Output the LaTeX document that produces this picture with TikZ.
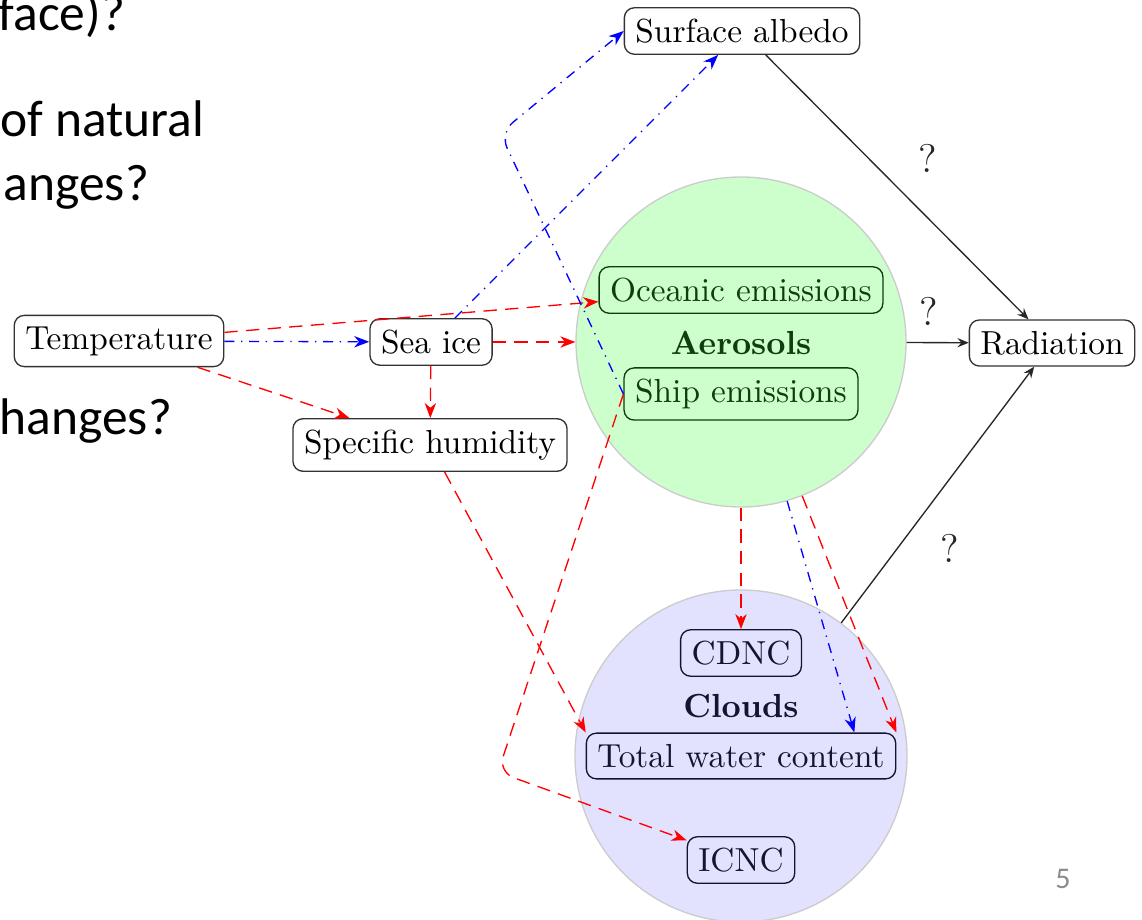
\documentclass[tikz,border=0pt]{standalone}
\usepackage{fontspec}
\newfontfamily\slidefont{Carlito}
\usetikzlibrary{arrows.meta}
\definecolor{aerfill}{HTML}{CCFFCC}
\definecolor{cldfill}{HTML}{E2E2FF}
\definecolor{aertext}{HTML}{0F3D0F}
\definecolor{cldtext}{HTML}{141430}
\definecolor{rimgray}{HTML}{CCCCCC}
\definecolor{pagegray}{HTML}{8C8C8C}
\begin{document}
\begin{tikzpicture}[x=0.3pt,y=-0.3pt,
  box/.style={draw=black!80, rounded corners=3pt, inner sep=3.33pt, font=\fontsize{10}{12}\selectfont},
  gbox/.style={box, draw=aertext, text=aertext},
  cbox/.style={box, draw=cldtext, text=cldtext},
  redarr/.style={red, dash pattern=on 4pt off 2.5pt, -{Stealth[length=4.5pt,width=3.4pt,inset=1.4pt]}},
  bluearr/.style={blue, dash pattern=on 3pt off 2pt on \pgflinewidth off 2pt, -{Stealth[length=4.5pt,width=3.4pt,inset=1.4pt]}},
  blackarr/.style={black!85, -{Stealth[length=3.4pt,width=2.8pt,inset=1.2pt]}},
  qmark/.style={font=\large},
  slidetext/.style={font=\slidefont\fontsize{15.45}{18}\selectfont, anchor=base west, inner sep=0pt}
]
\clip (0,0) rectangle (1142,919);

% slide text fragments
\node[slidetext] (s1) at (-2,31) {face)?};
\node[slidetext] (s2) at (0,137) {of natural};
\node[slidetext] (s3) at (3,201) {anges?};
\node[slidetext] (s4) at (-1,435) {hanges?};
\node[font=\slidefont\fontsize{9}{10}\selectfont, text=pagegray] (pnum) at (1063,879) {5};

% group circles
\node[circle, fill=aerfill, draw=rimgray, minimum size=99pt, inner sep=0pt] (aer) at (741,342) {};
\node[circle, fill=cldfill, draw=rimgray, minimum size=99.6pt, inner sep=0pt] (clouds) at (741,756) {};

% nodes
\node[box] (temp) at (119,341) {Temperature};
\node[box] (seaice) at (431,342) {Sea ice};
\node[box] (sh) at (430,445) {Specific humidity};
\node[box] (albedo) at (742,31) {Surface albedo};
\node[box] (rad) at (1052,343) {Radiation};
\node[gbox] (ocean) at (741,290) {Oceanic emissions};
\node[font=\bfseries, text=aertext] (aerlab) at (741,343) {Aerosols};
\node[gbox] (ship) at (741,394) {Ship emissions};
\node[cbox] (cdnc) at (741,653) {CDNC};
\node[font=\bfseries, text=cldtext] (cldlab) at (741,706) {Clouds};
\node[cbox] (twc) at (741,756) {Total water content};
\node[cbox] (icnc) at (741,860) {ICNC};

\coordinate (c1) at (500,133);
\coordinate (c2) at (498,772);

% connectors
\draw[redarr] (temp) -- (ocean);
\draw[bluearr] (temp) -- (seaice);
\draw[redarr] (temp) -- (sh);
\draw[redarr] (seaice) -- (aer);
\draw[redarr] (seaice) -- (sh);
\draw[bluearr] (seaice) -- (albedo);
\draw[bluearr, rounded corners=5pt] (ship.west) -- (c1) -- (albedo.west);
\draw[redarr, rounded corners=5pt] (ship.west) -- (c2) -- (icnc);
\draw[redarr] (sh) -- (twc.north west);
\draw[redarr] (aer) -- (cdnc);
\draw[bluearr] (aer) -- ([xshift=-12.6pt]twc.north east);
\draw[redarr] (aer) -- (twc.north east);
\draw[blackarr] (albedo) -- node[qmark, xshift=9.3pt, yshift=8.7pt] {?} (rad);
\draw[blackarr] (aer) -- node[qmark, xshift=-2.7pt, yshift=9.3pt] {?} (rad);
\draw[blackarr] (clouds) -- node[qmark, xshift=3.6pt, yshift=-16pt] {?} (rad);
\end{tikzpicture}
\end{document}
